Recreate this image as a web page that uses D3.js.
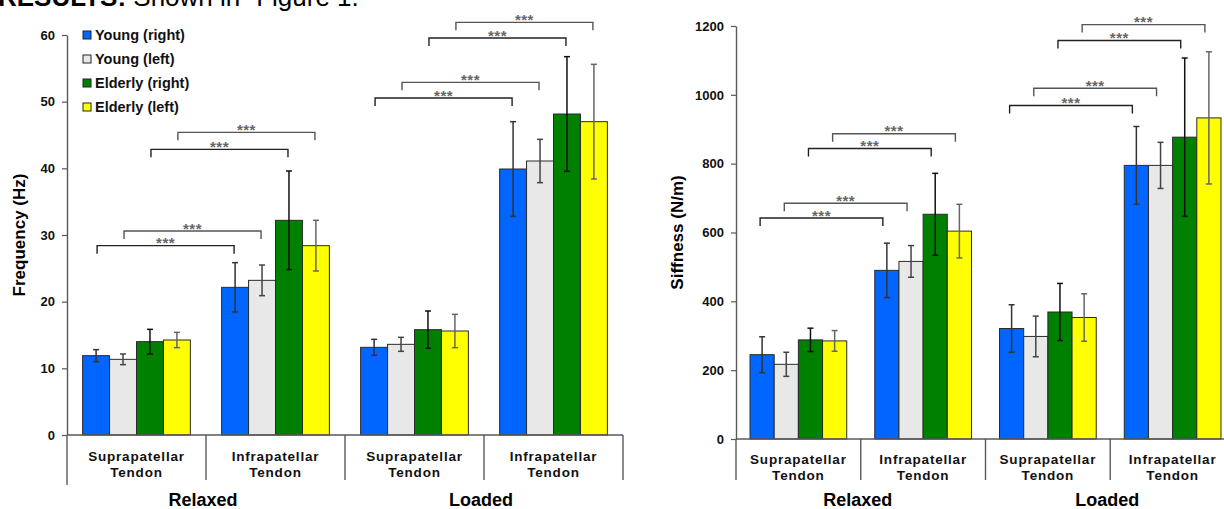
<!DOCTYPE html>
<html>
<head>
<meta charset="utf-8">
<script src="https://cdn.jsdelivr.net/npm/d3@7"></script>
<style>
  body { margin: 0; background: #fff; }
  svg { display: block; font-family: "Liberation Sans", Arial, sans-serif; }
</style>
</head>
<body>
<svg id="fig" width="1224" height="509"></svg>
<script>
// series and categories
const series = ["Young (right)", "Young (left)", "Elderly (right)", "Elderly (left)"];
const colors = ["#0066ff", "#e8e8e8", "#008000", "#ffff00"];
const errColors = ["#333", "#444", "#111", "#666"];
const tendons = ["Suprapatellar|Tendon", "Infrapatellar|Tendon", "Suprapatellar|Tendon", "Infrapatellar|Tendon"];
const conditions = ["Relaxed", "Loaded"];

// Frequency (Hz): one row per series, one value per category
const freqMean = [
    [11.9, 22.15, 13.15, 39.9],
    [11.35, 23.2, 13.6, 41.1],
    [14.0, 32.2, 15.8, 48.15],
    [14.25, 28.4, 15.6, 47.0]
];
const freqErr = [
    [0.9, 3.7, 1.2, 7.1],
    [0.8, 2.3, 1.05, 3.25],
    [1.85, 7.4, 2.8, 8.6],
    [1.15, 3.8, 2.5, 8.6]
];
const freqTicks = [0, 10, 20, 30, 40, 50, 60];

// Stiffness (N/m)
const stiffMean = [
    [245, 490, 321, 795],
    [217, 516, 298, 795],
    [288, 653, 369, 877],
    [285, 604, 353, 933]
];
const stiffErr = [
    [52, 79, 69, 113],
    [35, 46, 59, 67],
    [34, 119, 83, 230],
    [30, 78, 69, 192]
];
const stiffTicks = [0, 200, 400, 600, 800, 1000, 1200];

// significance brackets: [group A, group B, series]
const bracketPairs = [[0, 1, 0], [0, 1, 1], [0, 1, 2], [0, 1, 3], [2, 3, 0], [2, 3, 1], [2, 3, 2], [2, 3, 3]];
const freqBracketLevels = [28.4, 30.6, 42.85, 45.4, 50.55, 52.9, 59.55, 61.9];
const stiffBracketLevels = [642, 685, 844, 887, 969, 1019, 1158, 1204];

const svg = d3.select("#fig");

// heading (cut off at the top in the original)
const head = svg.append("text").attr("x", -2).attr("y", 6).style("font-size", "26px").attr("fill", "#000");
head.append("tspan").style("font-weight", "bold").text("RESULTS:");
head.append("tspan").text(" Shown in \u201CFigure 1.");

function drawChart(o) {
    const g = svg.append("g");

    const y = d3.scaleLinear().domain([0, o.ticks[o.ticks.length - 1]]).range([o.bottom, o.top]);
    const xg = d3.scaleBand().domain(d3.range(tendons.length)).range([o.left, o.right]);
    const xs = d3.scaleBand().domain(d3.range(series.length)).range([0, xg.bandwidth()]).paddingOuter(0.58);
    const y0 = y(0);

    // y axis
    const yAxis = g.append("g")
        .attr("transform", `translate(${o.left},0)`)
        .call(d3.axisLeft(y).tickValues(o.ticks).tickFormat(d3.format("d"))
            .tickSize(5).tickPadding(7).tickSizeOuter(0));
    yAxis.select(".domain").attr("stroke", "#595959").attr("stroke-width", 1.4);
    yAxis.selectAll(".tick line").attr("stroke", "#595959").attr("stroke-width", 1.2);
    yAxis.selectAll(".tick text")
        .attr("fill", "#111")
        .style("font-size", "13px")
        .style("font-weight", "bold")
        .style("font-family", "'Liberation Sans', Arial, sans-serif");

    // y title
    g.append("text")
        .attr("transform", `translate(${o.titleX},${(o.top + o.bottom) / 2}) rotate(-90)`)
        .attr("text-anchor", "middle")
        .attr("dy", "0.35em")
        .style("font-size", "17px")
        .style("font-weight", "bold")
        .text(o.title);

    // bars
    series.forEach((s, si) => {
        g.append("g").selectAll("rect")
            .data(o.mean[si])
            .join("rect")
            .attr("x", (d, i) => xg(i) + xs(si))
            .attr("y", d => y(d))
            .attr("width", xs.bandwidth())
            .attr("height", d => y0 - y(d))
            .attr("fill", colors[si])
            .attr("stroke", "#2a2a2a")
            .attr("stroke-width", 1);
    });

    // error bars
    series.forEach((s, si) => {
        const eg = g.append("g").attr("stroke", errColors[si]).attr("stroke-width", 1.5);
        o.mean[si].forEach((m, i) => {
            const cx = xg(i) + xs(si) + xs.bandwidth() / 2;
            const e = o.err[si][i];
            eg.append("line").attr("x1", cx).attr("x2", cx).attr("y1", y(m - e)).attr("y2", y(m + e));
            eg.append("line").attr("x1", cx - 3).attr("x2", cx + 3).attr("y1", y(m + e)).attr("y2", y(m + e));
            eg.append("line").attr("x1", cx - 3).attr("x2", cx + 3).attr("y1", y(m - e)).attr("y2", y(m - e));
        });
    });

    // x axis line and category separators
    g.append("line").attr("x1", o.left).attr("x2", o.right).attr("y1", y0).attr("y2", y0)
        .attr("stroke", "#595959").attr("stroke-width", 1.4);
    g.append("line").attr("x1", o.left).attr("x2", o.left).attr("y1", y0).attr("y2", o.axisEnd)
        .attr("stroke", "#595959").attr("stroke-width", 1.4);
    d3.range(1, tendons.length + 1).forEach(i => {
        const sx = i < tendons.length ? xg(i) : o.right;
        g.append("line").attr("x1", sx).attr("x2", sx).attr("y1", y0).attr("y2", 480)
            .attr("stroke", "#595959").attr("stroke-width", 1.4);
    });

    // tendon labels
    tendons.forEach((t, i) => {
        const lines = t.split("|");
        const cx = xg(i) + xg.bandwidth() / 2;
        lines.forEach((ln, li) => {
            g.append("text")
                .attr("x", cx)
                .attr("y", y0 + o.labelDy + li * 15.5)
                .attr("text-anchor", "middle")
                .style("font-size", "13.5px")
                .style("font-weight", "bold")
                .style("letter-spacing", "0.8px")
                .attr("fill", "#111")
                .text(ln);
        });
    });

    // condition labels
    conditions.forEach((c, ci) => {
        const cx = xg(ci * 2 + 1) - 3;
        g.append("text")
            .attr("x", cx)
            .attr("y", 506)
            .attr("text-anchor", "middle")
            .style("font-size", "18px")
            .style("font-weight", "bold")
            .text(c);
    });

    // significance brackets
    bracketPairs.forEach((p, bi) => {
        const xa = xg(p[0]) + xs(p[2]) + xs.bandwidth() / 2 + o.bracketDx;
        const xb = xg(p[1]) + xs(p[2]) + xs.bandwidth() / 2 - 2 + o.bracketDx;
        const by = y(o.levels[bi]);
        g.append("path")
            .attr("d", `M${xa},${by + 8}V${by}H${xb}V${by + 8}`)
            .attr("fill", "none")
            .attr("stroke", bi % 2 ? "#555" : "#222")
            .attr("stroke-width", 1.4);
        g.append("text")
            .attr("x", (xa + xb) / 2)
            .attr("y", by + 2.5)
            .attr("text-anchor", "middle")
            .style("font-size", "15px")
            .style("font-weight", "bold")
            .style("letter-spacing", "0.5px")
            .attr("fill", "#666")
            .text("***");
    });

    return { g, y, xg, xs };
}

drawChart({
    left: 67, right: 623, top: 35, bottom: 435, axisEnd: 485,
    ticks: freqTicks, mean: freqMean, err: freqErr, levels: freqBracketLevels,
    title: "Frequency (Hz)", titleX: 19, labelDy: 26, bracketDx: 1
});

drawChart({
    left: 736, right: 1235, top: 26, bottom: 439, axisEnd: 480,
    ticks: stiffTicks, mean: stiffMean, err: stiffErr, levels: stiffBracketLevels,
    title: "Siffness (N/m)", titleX: 677, labelDy: 25, bracketDx: -2
});

// legend (left chart only)
const legend = svg.append("g");
series.forEach((s, i) => {
    const ly = 35 + i * 24;
    legend.append("rect")
        .attr("x", 83).attr("y", ly - 4)
        .attr("width", 8).attr("height", 8)
        .attr("fill", colors[i])
        .attr("stroke", "#222").attr("stroke-width", 1);
    legend.append("text")
        .attr("x", 95).attr("y", ly)
        .attr("dy", "0.36em")
        .style("font-size", "14.5px")
        .style("font-weight", "bold")
        .attr("fill", "#111")
        .text(s);
});
</script>
</body>
</html>
